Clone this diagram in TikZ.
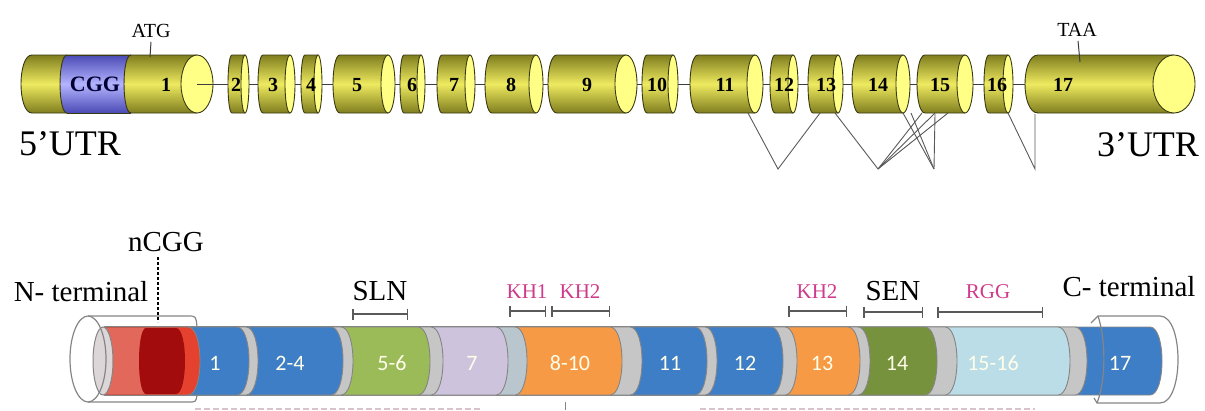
\documentclass[tikz,border=0pt]{standalone}
\usepackage{fontspec}
\setmainfont{Liberation Serif}
\newfontfamily\barfont{Carlito}
\usetikzlibrary{arrows.meta}
% gene (top) colours
\definecolor{olivedark}{HTML}{7F7D1E}
\definecolor{olivemid}{HTML}{EEEA60}
\definecolor{exonedge}{HTML}{3A3A12}
\definecolor{capyellow}{HTML}{FFFF85}
\definecolor{cggdark}{HTML}{4A4AB5}
\definecolor{cgglight}{HTML}{B4B4FF}
\definecolor{intronline}{HTML}{3C3C3C}
% protein (bottom) colours
\definecolor{segblue}{RGB}{62,126,198}
\definecolor{seggray}{HTML}{C6C6C6}
\definecolor{segsep}{HTML}{BAC6CE}
\definecolor{seggreen}{HTML}{9BBB59}
\definecolor{seglav}{HTML}{CDC3DC}
\definecolor{segorange}{HTML}{F79A46}
\definecolor{segdkgreen}{HTML}{76923C}
\definecolor{segltblue}{HTML}{BADDE7}
\definecolor{redlight}{HTML}{E2685C}
\definecolor{reddark}{HTML}{A30C0C}
\definecolor{redmid}{HTML}{E4412F}
\definecolor{endcap}{HTML}{DCD6D8}
\definecolor{barline}{HTML}{858585}
\definecolor{domainpink}{HTML}{CF3A8A}
\definecolor{bracketgray}{HTML}{5A5A5A}
\definecolor{dashpink}{HTML}{D8C4C8}
\begin{document}
\begin{tikzpicture}[x=1pt,y=-1pt,
  exonshade/.style={top color=olivedark, bottom color=olivedark, middle color=olivemid},
  exonline/.style={draw=exonedge, line width=0.9pt},
  exnum/.style={font=\fontsize{20}{22}\selectfont\bfseries, text=black, inner sep=0pt},
  intron/.style={draw=intronline, line width=1pt},
  splice/.style={draw=intronline!85, line width=0.9pt},
  utr/.style={font=\fontsize{36}{40}\selectfont, inner sep=0pt},
  codon/.style={font=\fontsize{20}{22}\selectfont, inner sep=0pt},
  lbl/.style={font=\fontsize{29}{32}\selectfont, inner sep=0pt},
  domlbl/.style={font=\fontsize{21}{24}\selectfont, text=domainpink, inner sep=0pt},
  segtxt/.style={font=\barfont\fontsize{22}{24}\selectfont, text=white!92!yellow, inner sep=0pt},
  sleeve/.style={draw=barline, line width=1.2pt},
  bracket/.style={draw=bracketgray, line width=1.1pt,
    {Bar[width=11pt,line width=1.5pt]}-{Bar[width=11pt,line width=1.5pt]}},
]
\useasboundingbox (0,0) rectangle (1205,410);

% ---------------- gene: exons 1-17 ----------------
% n / left / right / cap radius / left radius / label x
\foreach \n/\xl/\xr/\rc/\rl/\tx in {
  1/21/213/16/11/166, 2/228/249/4/4/236, 3/258/295/5/5/273, 4/301/322/4/4/311,
  5/333/395/7/7/357, 6/400/425/4/4/412, 7/437/475/5/5/454, 8/485/543/7/7/511,
  9/548/637/11/9/587, 10/642/678/5/5/657, 11/690/763/8/8/725, 12/770/798/5/5/784,
  13/808/843/5/5/826, 14/852/910/7/7/878, 15/917/973/8/8/940, 16/984/1013/5/5/997,
  17/1025/1195/21/13/1063}{
  \pgfmathsetmacro\xa{\xl+\rl}
  \pgfmathsetmacro\xb{\xr-\rc}
  \pgfmathsetmacro\xk{\xa-1.3333*\rl}
  \shade[exonshade] (\xa,55) -- (\xb,55) -- (\xb,113) -- (\xa,113)
     .. controls (\xk,113) and (\xk,55) .. (\xa,55) -- cycle;
  \draw[exonline] (\xb,55) -- (\xa,55) .. controls (\xk,55) and (\xk,113) .. (\xa,113) -- (\xb,113);
  \draw[exonline, fill=capyellow] (\xb,84) ellipse [x radius=\rc pt, y radius=29pt];
  \coordinate (e\n-w) at (\xl,84);
  \coordinate (e\n-e) at (\xr,84);
  \coordinate (e\n-c) at (\xb,84);
}

% CGG repeat inside exon 1
\shade[top color=cggdark, bottom color=cggdark, middle color=cgglight]
  (67,55) -- (131,55) .. controls (121.7,55) and (121.7,113) .. (131,113)
  -- (67,113) .. controls (57.7,113) and (57.7,55) .. (67,55) -- cycle;
\draw[exonline] (67,55) -- (131,55);
\draw[exonline] (67,113) -- (131,113);
\draw[exonline] (67,55) .. controls (57.7,55) and (57.7,113) .. (67,113);
\draw[exonline] (131,55) .. controls (121.7,55) and (121.7,113) .. (131,113);
\node[font=\fontsize{22}{24}\selectfont\bfseries, text=black!80!blue, inner sep=0pt] (cgg) at (95,84) {CGG};

% exon numbers
\foreach \n/\tx in {1/166, 2/236, 3/273, 4/311, 5/357, 6/412, 7/454, 8/511, 9/587,
  10/657, 11/725, 12/784, 13/826, 14/878, 15/940, 16/997, 17/1063}{
  \node[exnum] (x\n) at (\tx,85) {\n};
}

% introns
\draw[intron] (e1-c) -- (e2-w);
\foreach \i/\j in {2/3,3/4,4/5,5/6,6/7,7/8,8/9,9/10,10/11,11/12,12/13,13/14,14/15,15/16,16/17}{
  \draw[intron] (e\i-e) -- (e\j-w);
}

% alternative splicing lines
\coordinate (b11) at (748,113);
\coordinate (v1) at (778,169);
\coordinate (b13a) at (820,113);
\coordinate (b13b) at (835,113);
\coordinate (v2) at (878,169);
\coordinate (b15a) at (922,113);
\coordinate (b15b) at (935,113);
\coordinate (b15c) at (948,113);
\coordinate (b14a) at (903,113);
\coordinate (b14b) at (911,113);
\coordinate (v3) at (934,169);
\coordinate (v3t) at (935,114);
\coordinate (b16) at (1008,113);
\coordinate (v4) at (1035,169);
\coordinate (v4t) at (1035,114);
\draw[splice] (b11) -- (v1) -- (b13a);
\draw[splice] (b13b) -- (v2);
\draw[splice] (v2) -- (b15a);
\draw[splice] (v2) -- (b15b);
\draw[splice] (v2) -- (b15c);
\draw[splice] (b14a) -- (v3);
\draw[splice] (b14b) -- (v3);
\draw[splice] (v3t) -- (v3);
\draw[splice] (b16) -- (v4) -- (v4t);

% codon marks and UTR labels
\node[codon] (atg) at (151,31) {ATG};
\coordinate (atgt) at (150,57);
\draw[intron] (atg.south) ++(0,4) -- (atgt);
\node[codon] (taa) at (1077,30) {TAA};
\coordinate (taat) at (1080,62);
\draw[intron] (taa.south) ++(1,4) -- (taat);
\node[utr] (utr5) at (70,144) {5’UTR};
\node[utr] (utr3) at (1148,145) {3’UTR};

% ---------------- protein bar ----------------
\foreach \ap/\col in {1162/segblue, 1087/seggray, 1070/segltblue, 957/seggray,
  937/segdkgreen, 870/seggray, 860/segorange, 797/seggray, 783/segblue, 717/seggray,
  707/segblue, 642/seggray, 622/segorange, 527/segsep, 508/seglav, 443/seggray,
  430/seggreen, 353/seggray, 343/segblue, 258/seggray, 249/segblue, 200/redmid}{
  \pgfmathsetmacro\xs{\ap-12}
  \pgfmathsetmacro\xc{\ap+4}
  \path[fill=\col, draw=barline, line width=0.9pt] (105,327) -- (\xs,327)
    .. controls (\xc,327) and (\xc,395) .. (\xs,395) -- (105,395) -- cycle;
}
% N-terminal reds
\path[fill=redlight] (105,328) -- (146,328) .. controls (136.7,328) and (136.7,394) .. (146,394) -- (105,394) -- cycle;
\path[fill=reddark] (146,328) -- (176,328) .. controls (188,328) and (188,394) .. (176,394)
  -- (146,394) .. controls (136.7,394) and (136.7,328) .. (146,328) -- cycle;
\draw[fill=endcap, draw=barline, line width=1pt] (103,361) ellipse [x radius=10pt, y radius=34pt];

% N-terminal sleeve
\draw[sleeve] (88,359) ellipse [x radius=18pt, y radius=43pt];
\draw[sleeve] (88,316) -- (188,316) .. controls (196,316) .. (197,327);
\draw[sleeve] (88,402) -- (188,402) .. controls (196,402) .. (197,395);

% C-terminal sleeve
\draw[sleeve] (1091,323) -- (1098,316) -- (1160,316) .. controls (1184,316) and (1184,403) .. (1160,403) -- (1097,403) -- (1094,398);
\draw[sleeve] (1098,316) .. controls (1106,340) and (1106,380) .. (1097,403);

% segment labels
\node[segtxt] (s1) at (215,363) {1};
\node[segtxt] (s2) at (290,363) {2-4};
\node[segtxt] (s5) at (392,363) {5-6};
\node[segtxt] (s7) at (472,363) {7};
\node[segtxt] (s8) at (570,363) {8-10};
\node[segtxt] (s11) at (670,363) {11};
\node[segtxt] (s12) at (745,363) {12};
\node[segtxt] (s13) at (822,363) {13};
\node[segtxt] (s14) at (897,363) {14};
\node[segtxt] (s15) at (993,363) {15-16};
\node[segtxt] (s17) at (1120,363) {17};

% terminal and domain labels
\node[lbl] (nterm) at (81,292) {N- terminal};
\node[lbl] (ncgg) at (166,242) {nCGG};
\coordinate (ncggt) at (158,322);
\draw[black, line width=1.1pt, dash pattern=on 3pt off 2pt] (158,257) -- (ncggt);
\node[lbl] (cterm) at (1129,287) {C- terminal};
\node[lbl] (sln) at (380,291) {SLN};
\node[lbl] (sen) at (893,291) {SEN};
\node[domlbl] (kh1) at (527,292) {KH1};
\node[domlbl] (kh2) at (580,292) {KH2};
\node[domlbl] (kh2b) at (817,292) {KH2};
\node[domlbl] (rgg) at (988,292) {RGG};

\draw[bracket] (352,314) -- (408,314);
\draw[bracket] (509,311) -- (546,311);
\draw[bracket] (551,311) -- (610,311);
\draw[bracket] (788,311) -- (847,311);
\draw[bracket] (863,312) -- (923,312);
\draw[bracket] (937,312) -- (1043,312);

% partly visible dashed rulers along the lower edge
\draw[dashpink, line width=2.5pt, dash pattern=on 6pt off 3pt] (195,409) -- (480,409);
\draw[dashpink, line width=2.5pt, dash pattern=on 6pt off 3pt] (700,409) -- (1035,409);
\draw[barline, line width=1pt] (565,402) -- (565,410);
\end{tikzpicture}
\end{document}
